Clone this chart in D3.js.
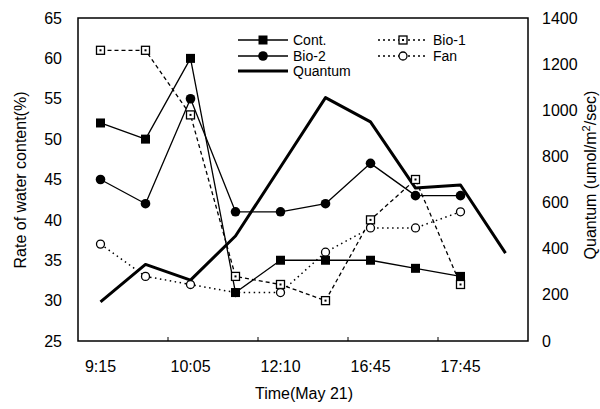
<!DOCTYPE html>
<html><head><meta charset="utf-8">
<script src="https://cdn.jsdelivr.net/npm/d3@7"></script>
<style>body{margin:0;background:#fff}svg{display:block}text{font-family:"Liberation Sans",Arial,sans-serif;fill:#000}</style>
</head><body><svg id="c" width="600" height="409"></svg>
<script>
const categories = [0,1,2,3,4,5,6,7,8,9];
const tickLabels = ["9:15","","10:05","","12:10","","16:45","","17:45",""];
const cont    = [52,50,60,31,35,35,35,34,33,null];
const bio2    = [45,42,55,41,41,42,47,43,43,null];
const bio1    = [61,61,53,33,32,30,40,45,32,null];
const fan     = [37,33,32,31,31,36,39,39,41,null];
const quantum = [170,332,264,455,754,1055,950,663,676,381];
const leftTicks = [25,30,35,40,45,50,55,60,65];
const rightTicks = [0,200,400,600,800,1000,1200,1400];

const svg = d3.select("#c");
const L=78,R=528,T=18,B=341;
const x = d3.scaleBand().domain(categories).range([L,R]);
const cx = i => x(i)+x.bandwidth()/2;
const yL = d3.scaleLinear().domain([25,65]).range([B,T]);
const yR = d3.scaleLinear().domain([0,1400]).range([B,T]);

svg.append("rect").attr("x",L).attr("y",T).attr("width",R-L).attr("height",B-T)
  .attr("fill","none").attr("stroke","#000").attr("stroke-width",1.5);

const axL = svg.append("g").attr("transform",`translate(${L},0)`)
  .call(d3.axisLeft(yL).tickValues(leftTicks).tickFormat(d3.format("d")).tickSize(0).tickPadding(16));
const axR = svg.append("g").attr("transform",`translate(${R},0)`)
  .call(d3.axisRight(yR).tickValues(rightTicks).tickFormat(d3.format("d")).tickSize(0).tickPadding(14));
const axB = svg.append("g").attr("transform",`translate(0,${B})`)
  .call(d3.axisBottom(x).tickFormat((d,i)=>tickLabels[i]).tickSize(0).tickPadding(20));
[axL,axR,axB].forEach(a=>{a.select(".domain").remove();a.selectAll("text").style("font-size","16px").style("font-family",'"Liberation Sans",Arial,sans-serif');});
axB.selectAll(".tick").attr("transform",d=>`translate(${cx(d)},0)`);
[2,4,6,8].forEach(k=>{
  svg.append("line").attr("x1",x(k)).attr("x2",x(k)).attr("y1",B).attr("y2",B-4).attr("stroke","#000").attr("stroke-width",1);
});

svg.append("text").attr("transform","translate(26,180) rotate(-90)").attr("text-anchor","middle")
  .style("font-size","16px").text("Rate of water content(%)");
const rt = svg.append("text").attr("transform","translate(596,175) rotate(-90)").attr("text-anchor","middle")
  .style("font-size","16px");
rt.append("tspan").text("Quantum (umol/m");
rt.append("tspan").attr("dy",-6).style("font-size","11px").text("2");
rt.append("tspan").attr("dy",6).text("/sec)");
svg.append("text").attr("x",304).attr("y",399).attr("text-anchor","middle").style("font-size","16px").text("Time(May 21)");

function drawLine(data, y, opts){
  const line = d3.line().defined(d=>d!=null).x((d,i)=>cx(i)).y(d=>y(d));
  svg.append("path").datum(data).attr("d",line).attr("fill","none").attr("stroke","#000")
    .attr("stroke-width",opts.w).attr("stroke-dasharray",opts.dash||null).attr("stroke-linejoin","round");
}
drawLine(quantum, yR, {w:3});
drawLine(bio1, yL, {w:1.3, dash:"4,3"});
drawLine(fan, yL, {w:1.5, dash:"1.5,3.5"});
drawLine(cont, yL, {w:1.3});
drawLine(bio2, yL, {w:1.3});

function marker(g, type, px, py){
  if(type==="fsq") g.append("rect").attr("x",px-4.5).attr("y",py-4.5).attr("width",9).attr("height",9).attr("fill","#000");
  if(type==="fci") g.append("circle").attr("cx",px).attr("cy",py).attr("r",4.8).attr("fill","#000");
  if(type==="osq"){ g.append("rect").attr("x",px-4).attr("y",py-4).attr("width",8).attr("height",8).attr("fill","#fff").attr("stroke","#000").attr("stroke-width",1.3);
    g.append("rect").attr("x",px-1).attr("y",py-1).attr("width",2).attr("height",2).attr("fill","#000"); }
  if(type==="oci") g.append("circle").attr("cx",px).attr("cy",py).attr("r",4).attr("fill","#fff").attr("stroke","#000").attr("stroke-width",1.3);
}
function drawMarkers(data, type){
  const g = svg.append("g");
  data.forEach((d,i)=>{ if(d!=null) marker(g,type,cx(i),yL(d)); });
}
drawMarkers(bio1,"osq");
drawMarkers(fan,"oci");
drawMarkers(cont,"fsq");
drawMarkers(bio2,"fci");

const legend = [
  {name:"Cont.", x:238, y:40, type:"fsq", w:1.3},
  {name:"Bio-2", x:238, y:56, type:"fci", w:1.3},
  {name:"Quantum", x:238, y:71, type:null, w:3},
  {name:"Bio-1", x:378, y:40, type:"osq", w:1.5, dash:"2,3"},
  {name:"Fan", x:378, y:56, type:"oci", w:1.5, dash:"2,3"}
];
legend.forEach(l=>{
  const g = svg.append("g");
  g.append("line").attr("x1",l.x).attr("x2",l.x+50).attr("y1",l.y).attr("y2",l.y)
    .attr("stroke","#000").attr("stroke-width",l.w).attr("stroke-dasharray",l.dash||null);
  if(l.type) marker(g,l.type,l.x+25,l.y);
  g.append("text").attr("x",l.x+55).attr("y",l.y+5).style("font-size","14px").text(l.name);
});
</script></body></html>
